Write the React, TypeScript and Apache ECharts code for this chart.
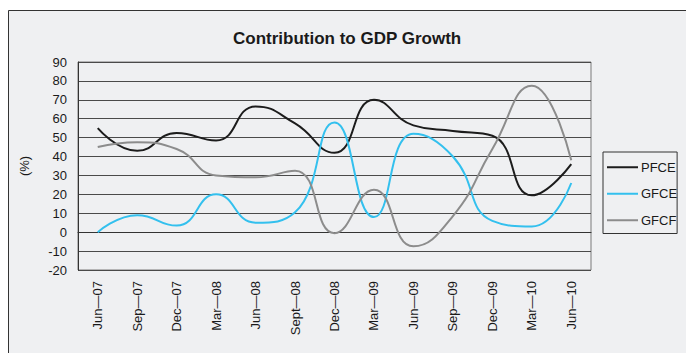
import React, { useEffect, useRef } from "react";
import * as echarts from "echarts";

const quarters = [
  "Jun—07", "Sep—07", "Dec—07", "Mar—08", "Jun—08", "Sept—08", "Dec—08",
  "Mar—09", "Jun—09", "Sep—09", "Dec—09", "Mar—10", "Jun—10",
];

const pfce = [55, 43, 52.5, 48.5, 66.5, 57.5, 42, 70, 56.5, 53.5, 51, 19.5, 36];
const gfce = [0, 9, 3.5, 20, 5, 10.5, 58, 8, 52, 40, 6, 3, 26];
const gfcf = [45, 47.5, 44, 30, 29, 32.5, -0.5, 22.5, -7.5, 8.5, 44, 77.5, 38];

const yMin = -20;
const yMax = 90;
const yStep = 10;

const FONT = "'Liberation Sans', Arial, sans-serif";

export default function App() {
  const ref = useRef<HTMLDivElement>(null);

  useEffect(() => {
    if (!ref.current) return;
    const chart = echarts.init(ref.current, null, { renderer: "svg" });

    const lineSeries = (name: string, data: number[], color: string) => ({
      name,
      type: "line",
      data,
      smooth: 0.5,
      symbol: "none",
      showSymbol: false,
      lineStyle: { color, width: 2 },
      itemStyle: { color },
      z: 3,
    });

    chart.setOption({
      animation: false,
      backgroundColor: "#ffffff",
      textStyle: { fontFamily: FONT },
      graphic: [
        {
          type: "rect",
          z: -10,
          silent: true,
          shape: { x: 8.5, y: 10.5, width: 700, height: 400 },
          style: { fill: "#eff0f2", stroke: "#333333", lineWidth: 1 },
        },
      ],
      title: {
        text: "Contribution to GDP Growth",
        left: 233,
        top: 30,
        padding: 0,
        textStyle: {
          fontFamily: FONT,
          fontSize: 17,
          fontWeight: "bold",
          color: "#1a1a1a",
        },
      },
      legend: {
        orient: "vertical",
        left: 603,
        top: 152,
        padding: [8, 0, 6, 4],
        icon: "rect",
        itemWidth: 31,
        itemHeight: 2,
        itemGap: 12,
        borderColor: "#333333",
        borderWidth: 1,
        textStyle: {
          fontFamily: FONT,
          fontSize: 13,
          color: "#1a1a1a",
          lineHeight: 14.5,
          padding: [0, 0, 0, -2],
        },
        data: ["PFCE", "GFCE", "GFCF"],
      },
      grid: {
        left: 78,
        right: 95,
        top: 62,
        bottom: 83,
        show: true,
        borderColor: "#7a7a7a",
        borderWidth: 1,
        backgroundColor: "transparent",
      },
      xAxis: {
        type: "category",
        data: quarters,
        boundaryGap: true,
        axisLine: { show: true, lineStyle: { color: "#333333", width: 1 } },
        axisTick: { show: false },
        axisLabel: {
          rotate: 90,
          interval: 0,
          margin: 11,
          fontFamily: FONT,
          fontSize: 13,
          color: "#1a1a1a",
        },
        splitLine: { show: false },
      },
      yAxis: {
        type: "value",
        min: yMin,
        max: yMax,
        interval: yStep,
        name: "(%)",
        nameLocation: "middle",
        nameGap: 47,
        nameRotate: 90,
        nameTextStyle: { fontFamily: FONT, fontSize: 13, color: "#1a1a1a" },
        axisLine: { show: true, lineStyle: { color: "#333333", width: 1 } },
        axisTick: { show: false },
        axisLabel: {
          margin: 11,
          fontFamily: FONT,
          fontSize: 13,
          color: "#1a1a1a",
        },
        splitLine: { show: true, lineStyle: { color: "#4a4a4a", width: 1 } },
      },
      series: [
        lineSeries("PFCE", pfce, "#1c1c1c"),
        lineSeries("GFCE", gfce, "#33c0ee"),
        lineSeries("GFCF", gfcf, "#8c8c8c"),
      ],
    });

    return () => chart.dispose();
  }, []);

  return (
    <div
      ref={ref}
      style={{ position: "fixed", left: 0, top: 0, width: 686, height: 353 }}
    />
  );
}
